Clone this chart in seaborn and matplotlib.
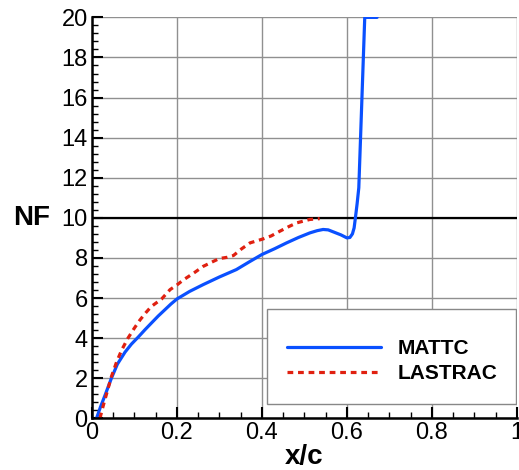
import numpy as np
import pandas as pd
import matplotlib
matplotlib.use('Agg')
import matplotlib.pyplot as plt
from matplotlib.patches import Rectangle
from matplotlib.ticker import MultipleLocator
import seaborn as sns

# MATTC curve (blue solid)
mattc_x = [0.011, 0.02, 0.031, 0.046, 0.06, 0.078, 0.093, 0.109, 0.125, 0.14, 0.156, 0.172, 0.186,
           0.2, 0.23, 0.262, 0.3, 0.34, 0.37, 0.4, 0.43, 0.458, 0.486, 0.513, 0.53, 0.544,
           0.556, 0.568, 0.586, 0.6, 0.607, 0.613, 0.617, 0.62, 0.624, 0.628,
           0.642, 0.671]
mattc_nf = [0.0, 0.55, 1.15, 2.0, 2.7, 3.3, 3.7, 4.05, 4.42, 4.75, 5.1, 5.42, 5.7,
            5.95, 6.33, 6.67, 7.05, 7.42, 7.8, 8.17, 8.46, 8.75, 9.02, 9.25, 9.36, 9.42,
            9.4, 9.3, 9.15, 9.0, 9.02, 9.2, 9.5, 10.0, 10.7, 11.5,
            20.0, 20.0]

# LASTRAC curve (red dashed)
lastrac_x = [0.019, 0.027, 0.035, 0.046, 0.058, 0.07, 0.085, 0.1, 0.113, 0.127, 0.14, 0.164, 0.184,
             0.2, 0.215, 0.24, 0.262, 0.285, 0.3, 0.318, 0.333, 0.352, 0.372, 0.403, 0.422,
             0.442, 0.462, 0.482, 0.5, 0.513, 0.536]
lastrac_nf = [0.0, 0.65, 1.25, 2.08, 2.8, 3.4, 4.0, 4.5, 4.9, 5.27, 5.58, 5.95, 6.42,
              6.65, 6.9, 7.25, 7.58, 7.82, 7.97, 8.03, 8.12, 8.45, 8.75, 8.95, 9.1,
              9.33, 9.55, 9.75, 9.85, 9.92, 9.96]

sns.set_style('white')
plt.rcParams['font.family'] = ['Liberation Sans', 'DejaVu Sans']
plt.rcParams['text.color'] = 'black'
plt.rcParams['axes.labelcolor'] = 'black'

df = pd.concat([
    pd.DataFrame({'x/c': mattc_x, 'NF': mattc_nf, 'code': 'MATTC'}),
    pd.DataFrame({'x/c': lastrac_x, 'NF': lastrac_nf, 'code': 'LASTRAC'}),
])

fig = plt.figure(figsize=(5.19, 4.70), dpi=100)
ax = fig.add_axes([0.177, 0.110, 0.819, 0.853])

ax.grid(True, color='#909090', linewidth=1.0)
ax.set_axisbelow(True)
ax.axhline(10, color='black', linewidth=1.6, zorder=1.5)

sns.lineplot(data=df, x='x/c', y='NF', hue='code', style='code',
             palette={'MATTC': '#0a50ff', 'LASTRAC': '#e02010'},
             dashes={'MATTC': '', 'LASTRAC': (1.8, 1.5)},
             linewidth=2.3, sort=False, estimator=None, ax=ax)

ax.set_xlim(0, 1)
ax.set_ylim(0, 20)
ax.xaxis.set_major_locator(MultipleLocator(0.2))
ax.xaxis.set_minor_locator(MultipleLocator(0.05))
ax.yaxis.set_major_locator(MultipleLocator(2))
ax.yaxis.set_minor_locator(MultipleLocator(0.4))
ax.set_xticks([0, 0.2, 0.4, 0.6, 0.8, 1.0])
ax.set_xticklabels(['0', '0.2', '0.4', '0.6', '0.8', '1'])

for side in ['top', 'right']:
    ax.spines[side].set_visible(False)
for side in ['left', 'bottom']:
    ax.spines[side].set_color('black')
    ax.spines[side].set_linewidth(1.8)

ax.tick_params(which='major', direction='in', length=8, width=1.5, labelsize=17,
               colors='black', labelcolor='black', pad=3)
ax.tick_params(which='minor', direction='in', length=4.5, width=1.0, colors='black')
ax.tick_params(axis='y', which='both', left=True)
ax.tick_params(axis='x', which='both', bottom=True)

ax.set_xlabel('x/c', fontsize=20, fontweight='bold', labelpad=0, color='black')
ax.set_ylabel('NF', fontsize=20, fontweight='bold', rotation=0, color='black',
              va='center', ha='center')
ax.yaxis.set_label_coords(-0.141, 0.5)

# legend box (square frame drawn separately)
ax.add_patch(Rectangle((0.411, 0.036), 0.587, 0.236, transform=ax.transAxes,
                       facecolor='white', edgecolor='#888888', linewidth=1.0, zorder=4))
handles, labels = ax.get_legend_handles_labels()
leg = ax.legend(handles, labels, loc='center left', bbox_to_anchor=(0.459, 0.142),
                frameon=False, prop={'weight': 'bold', 'size': 15}, handlelength=4.5,
                borderpad=0, labelspacing=0.3, handletextpad=0.8, borderaxespad=0.0)
leg.set_zorder(5)

fig.savefig('out.png', dpi=100)
